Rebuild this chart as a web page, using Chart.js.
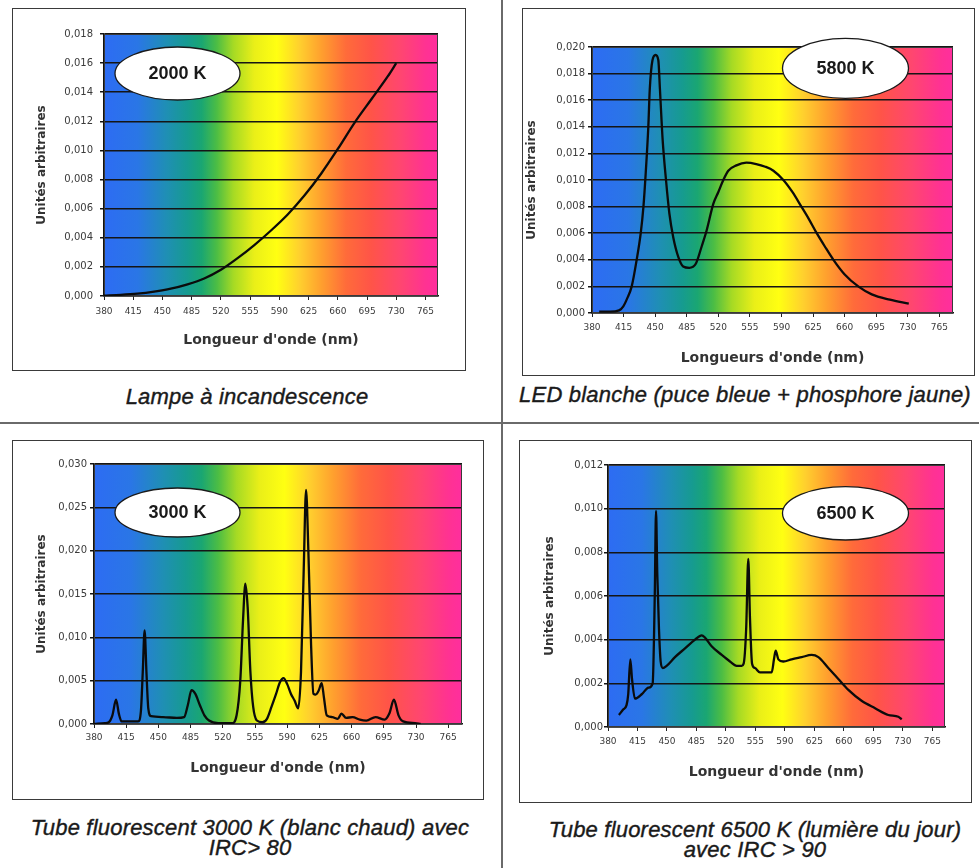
<!DOCTYPE html>
<html>
<head>
<meta charset="utf-8">
<script src="https://cdn.jsdelivr.net/npm/chart.js@4.4.1/dist/chart.umd.min.js"></script>
<style>
  body { margin: 0; background: #fff; width: 979px; height: 868px; position: relative; overflow: hidden; font-family: "Liberation Sans", Arial, sans-serif; }
  .frame { position: absolute; box-sizing: border-box; border: 1px solid #3a3a3a; background: #fff; }
  .frame canvas { position: absolute; left: 0; top: 0; }
  .cap { position: absolute; text-align: center; font-style: italic; font-size: 22px; line-height: 20px; color: #1a1a1a; white-space: nowrap; letter-spacing: 0.2px; -webkit-text-stroke: 0.4px #1a1a1a; }
  .vline { position: absolute; left: 501px; top: 0; width: 2px; height: 868px; background: #6a6a6a; }
  .hline { position: absolute; left: 0; top: 422px; width: 979px; height: 2px; background: #6a6a6a; }
</style>
</head>
<body>
<div class="vline"></div>
<div class="hline"></div>

<div class="frame" style="left:12px;top:8px;width:454px;height:363px"><canvas id="c2000" width="452" height="361"></canvas></div>
<div class="frame" style="left:522px;top:8px;width:453px;height:368px"><canvas id="c5800" width="451" height="366"></canvas></div>
<div class="frame" style="left:12px;top:440px;width:472px;height:360px"><canvas id="c3000" width="470" height="358"></canvas></div>
<div class="frame" style="left:519px;top:440px;width:453px;height:363px"><canvas id="c6500" width="451" height="361"></canvas></div>

<div class="cap" style="left:47px;top:387px;width:400px">Lampe à incandescence</div>
<div class="cap" style="left:515px;top:385px;width:460px">LED blanche (puce bleue + phosphore jaune)</div>
<div class="cap" style="left:20px;top:818px;width:460px">Tube fluorescent 3000 K (blanc chaud) avec<br>IRC&gt; 80</div>
<div class="cap" style="left:525px;top:820px;width:460px">Tube fluorescent 6500 K (lumière du jour)<br>avec IRC &gt; 90</div>

<script>
// wavelength ticks shared by all four charts (nm)
const X_TICKS = [380, 415, 450, 485, 520, 555, 590, 625, 660, 695, 730, 765];
const X_MIN = 380, X_MAX = 780;
const Y_TITLE = 'Unités arbitraires';

// Lampe à incandescence, 2000 K
const WL_2000 = [380, 400, 420, 440, 460, 480, 500, 520, 540, 560, 580, 600, 620, 640, 660, 680, 700, 720, 730];
const VAL_2000 = [0.00003, 0.00008, 0.00016, 0.0003, 0.0005, 0.0008, 0.0012, 0.0018, 0.0026, 0.0035, 0.0045, 0.0056, 0.0069, 0.0084, 0.0101, 0.0119, 0.0135, 0.0151, 0.0160];
const Y_TICKS_2000 = [0, 0.002, 0.004, 0.006, 0.008, 0.010, 0.012, 0.014, 0.016, 0.018];

// LED blanche, 5800 K
const WL_5800 = [388, 400, 410, 414.7, 419, 424, 429.5, 434, 437, 439.5, 442.4, 444, 447, 450.5, 453.5, 455.3, 458.3, 462, 465.7, 470, 475.7, 481, 487.8, 495, 501.5, 507, 514.4, 520, 525.5, 531, 540, 551, 562, 572, 581, 592, 602, 612, 620, 629, 638, 647.5, 660, 675, 690, 710, 731];
const VAL_5800 = [0.0001, 0.0001, 0.0002, 0.0005, 0.0011, 0.002, 0.004, 0.006, 0.008, 0.0105, 0.014, 0.0168, 0.019, 0.0194, 0.019, 0.0168, 0.013, 0.010, 0.0075, 0.0057, 0.0042, 0.0035, 0.0034, 0.0037, 0.005, 0.0062, 0.0082, 0.0091, 0.010, 0.0107, 0.0111, 0.0113, 0.0112, 0.011, 0.0107, 0.010, 0.0091, 0.008, 0.0071, 0.006, 0.005, 0.004, 0.0029, 0.002, 0.0014, 0.001, 0.0007];
const Y_TICKS_5800 = [0, 0.002, 0.004, 0.006, 0.008, 0.010, 0.012, 0.014, 0.016, 0.018, 0.020];

// Tube fluorescent 3000 K
const WL_3000 = [380, 392, 396, 400, 404, 407, 410, 428, 431, 433, 435, 437, 439, 442, 455, 470, 478, 482, 486, 490, 495, 500, 505, 515, 530, 535, 539, 542, 544.5, 547, 550, 553, 557, 563, 568, 573, 578, 582, 586, 590, 594, 598, 602, 605, 608, 610.5, 613, 616, 618.5, 621, 624, 627.5, 630, 633, 639, 645, 649, 654, 661, 669, 676, 686, 696, 701, 706, 711, 716, 729, 735];
const VAL_3000 = [0, 0.0001, 0.0002, 0.001, 0.0028, 0.0012, 0.0003, 0.0003, 0.0015, 0.006, 0.0108, 0.006, 0.0018, 0.0009, 0.0008, 0.0007, 0.0008, 0.0022, 0.0039, 0.0035, 0.0022, 0.001, 0.0004, 0.0001, 0.0001, 0.001, 0.005, 0.012, 0.0162, 0.0135, 0.006, 0.002, 0.0004, 0.0002, 0.0006, 0.002, 0.0035, 0.0048, 0.0053, 0.0046, 0.0035, 0.0027, 0.0018, 0.006, 0.018, 0.027, 0.02, 0.009, 0.0035, 0.0034, 0.0038, 0.0047, 0.003, 0.001, 0.0008, 0.0006, 0.0012, 0.0007, 0.0008, 0.0005, 0.0004, 0.0008, 0.0005, 0.0012, 0.0028, 0.001, 0.0003, 0.0001, 0];
const Y_TICKS_3000 = [0, 0.005, 0.010, 0.015, 0.020, 0.025, 0.030];

// Tube fluorescent 6500 K
const WL_6500 = [393, 398, 402, 404, 406.5, 408.5, 412, 420, 428, 433, 435.5, 437, 438.5, 440.5, 442.5, 445, 449.6, 459.5, 471.4, 483.3, 491.2, 495, 503, 515, 524.8, 532.7, 538.7, 541, 544, 546.5, 548.5, 551, 554.5, 560.4, 574.3, 577, 579, 582.2, 588, 598, 609.9, 621.7, 629.7, 641.5, 653.4, 665.3, 681, 697, 712.7, 724.6, 728.6];
const VAL_6500 = [0.00055, 0.0008, 0.001, 0.0015, 0.0031, 0.0022, 0.0013, 0.0015, 0.0018, 0.002, 0.006, 0.0099, 0.007, 0.0045, 0.003, 0.0027, 0.0028, 0.0032, 0.0036, 0.004, 0.0042, 0.0041, 0.0037, 0.0033, 0.003, 0.0028, 0.0028, 0.0029, 0.0045, 0.0077, 0.005, 0.0029, 0.0027, 0.0025, 0.0025, 0.0031, 0.0035, 0.0031, 0.003, 0.0031, 0.0032, 0.0033, 0.0032, 0.0027, 0.0022, 0.0017, 0.0012, 0.00086, 0.00055, 0.00047, 0.00035];
const Y_TICKS_6500 = [0, 0.002, 0.004, 0.006, 0.008, 0.010, 0.012];

// rainbow behind the plot area
const SPECTRUM = [
  [380, '#2d6cf3'], [420, '#2a76e6'], [455, '#1f8fb4'], [480, '#169b90'],
  [497, '#1aa672'], [515, '#4cbd44'], [535, '#a6da24'], [560, '#eaef18'],
  [587, '#ffff12'], [614, '#ffd02e'], [640, '#ffa02e'], [670, '#ff6b3a'],
  [700, '#ff5448'], [735, '#ff4670'], [765, '#ff3292'], [780, '#ff2e9e']
];

Chart.defaults.font.family = '"DejaVu Sans", sans-serif';
Chart.defaults.color = '#333';

const spectrumBg = {
  id: 'spectrumBg',
  beforeDraw(chart) {
    const { ctx, chartArea: a } = chart;
    const g = ctx.createLinearGradient(a.left, 0, a.right, 0);
    SPECTRUM.forEach(([nm, c]) => g.addColorStop((nm - X_MIN) / (X_MAX - X_MIN), c));
    ctx.save();
    ctx.fillStyle = g;
    ctx.fillRect(a.left, a.top, a.right - a.left, a.bottom - a.top);
    ctx.restore();
  },
  beforeDatasetsDraw(chart) {
    const { ctx, chartArea: a } = chart;
    ctx.save();
    ctx.strokeStyle = '#3a3a3a';
    ctx.lineWidth = 1;
    ctx.strokeRect(a.left + 0.5, a.top + 0.5, a.right - a.left - 1, a.bottom - a.top - 1);
    ctx.restore();
  }
};

const badge = {
  id: 'badge',
  afterDatasetsDraw(chart, args, opts) {
    const ctx = chart.ctx;
    ctx.save();
    ctx.beginPath();
    ctx.ellipse(opts.cx, opts.cy, opts.rx, opts.ry, 0, 0, Math.PI * 2);
    ctx.fillStyle = '#fff';
    ctx.fill();
    ctx.lineWidth = 1.3;
    ctx.strokeStyle = '#1a1a1a';
    ctx.stroke();
    ctx.fillStyle = '#1a1a1a';
    ctx.font = 'bold 18px "Liberation Sans", Arial, sans-serif';
    ctx.textAlign = 'center';
    ctx.textBaseline = 'middle';
    ctx.fillText(opts.text, opts.cx, opts.cy + 1);
    ctx.restore();
  }
};

function drawSpectrum(id, wl, vals, yTicks, xTitle, g) {
  const h = document.getElementById(id).height;
  new Chart(document.getElementById(id), {
    type: 'line',
    data: {
      datasets: [{
        data: wl.map((x, i) => ({ x: x, y: vals[i] })),
        borderColor: '#0b0b0b',
        borderWidth: 2.3,
        pointRadius: 0,
        cubicInterpolationMode: 'monotone',
        fill: false
      }]
    },
    options: {
      responsive: false,
      animation: false,
      devicePixelRatio: 1,
      layout: { padding: { left: 0, top: g.top, right: g.right, bottom: 0 } },
      plugins: {
        legend: { display: false },
        tooltip: { enabled: false },
        badge: g.badge
      },
      scales: {
        x: {
          type: 'linear',
          min: X_MIN,
          max: X_MAX,
          afterBuildTicks: s => { s.ticks = X_TICKS.map(v => ({ value: v })); },
          afterFit: s => { s.height = g.xh; },
          grid: { drawOnChartArea: false, tickLength: 4, color: '#222', lineWidth: 1 },
          border: { color: '#111', width: 1.5 },
          ticks: { padding: g.xTickPad, maxRotation: 0, autoSkip: false, font: { size: 9 }, color: '#3a3a3a' },
          title: {
            display: true, text: xTitle, color: '#333',
            font: { size: 14, weight: 'bold' },
            padding: { top: 0, bottom: h - 8.4 - g.xTitleY }
          }
        },
        y: {
          min: yTicks[0],
          max: yTicks[yTicks.length - 1],
          afterBuildTicks: s => { s.ticks = yTicks.map(v => ({ value: v })); },
          afterFit: s => { s.width = g.left; },
          grid: { color: '#151515', lineWidth: 1.5, tickLength: 4 },
          border: { color: '#111', width: 1.5 },
          ticks: {
            padding: g.yTickPad, font: { size: 10 }, color: '#3a3a3a',
            callback: v => v.toFixed(3).replace('.', ',')
          },
          title: {
            display: true, text: Y_TITLE, color: '#333',
            font: { size: 12, weight: 'bold' },
            padding: { top: g.yTitleX - 7.2, bottom: 0 }
          }
        }
      }
    },
    plugins: [spectrumBg, badge]
  });
}

drawSpectrum('c2000', WL_2000, VAL_2000, Y_TICKS_2000, "Longueur d'onde (nm)", {
  left: 91, top: 25, right: 27, xh: 74, xTickPad: 6, yTickPad: 7, xTitleY: 331, yTitleX: 29,
  badge: { cx: 164.5, cy: 64.5, rx: 62.5, ry: 26.5, text: '2000 K' }
});
drawSpectrum('c5800', WL_5800, VAL_5800, Y_TICKS_5800, "Longueurs d'onde (nm)", {
  left: 69, top: 38, right: 21, xh: 62, xTickPad: 5.6, yTickPad: 3, xTitleY: 349, yTitleX: 9,
  badge: { cx: 322.5, cy: 59.3, rx: 63, ry: 30, text: '5800 K' }
});
drawSpectrum('c3000', WL_3000, VAL_3000, Y_TICKS_3000, "Longueur d'onde (nm)", {
  left: 81, top: 23, right: 21, xh: 75, xTickPad: 4.6, yTickPad: 3, xTitleY: 327, yTitleX: 29,
  badge: { cx: 164.5, cy: 71.5, rx: 62.5, ry: 24.5, text: '3000 K' }
});
drawSpectrum('c6500', WL_6500, VAL_6500, Y_TICKS_6500, "Longueur d'onde (nm)", {
  left: 88, top: 24, right: 26, xh: 75, xTickPad: 5.6, yTickPad: 1, xTitleY: 331, yTitleX: 30,
  badge: { cx: 325.5, cy: 72.3, rx: 63, ry: 26.7, text: '6500 K' }
});
</script>
</body>
</html>
